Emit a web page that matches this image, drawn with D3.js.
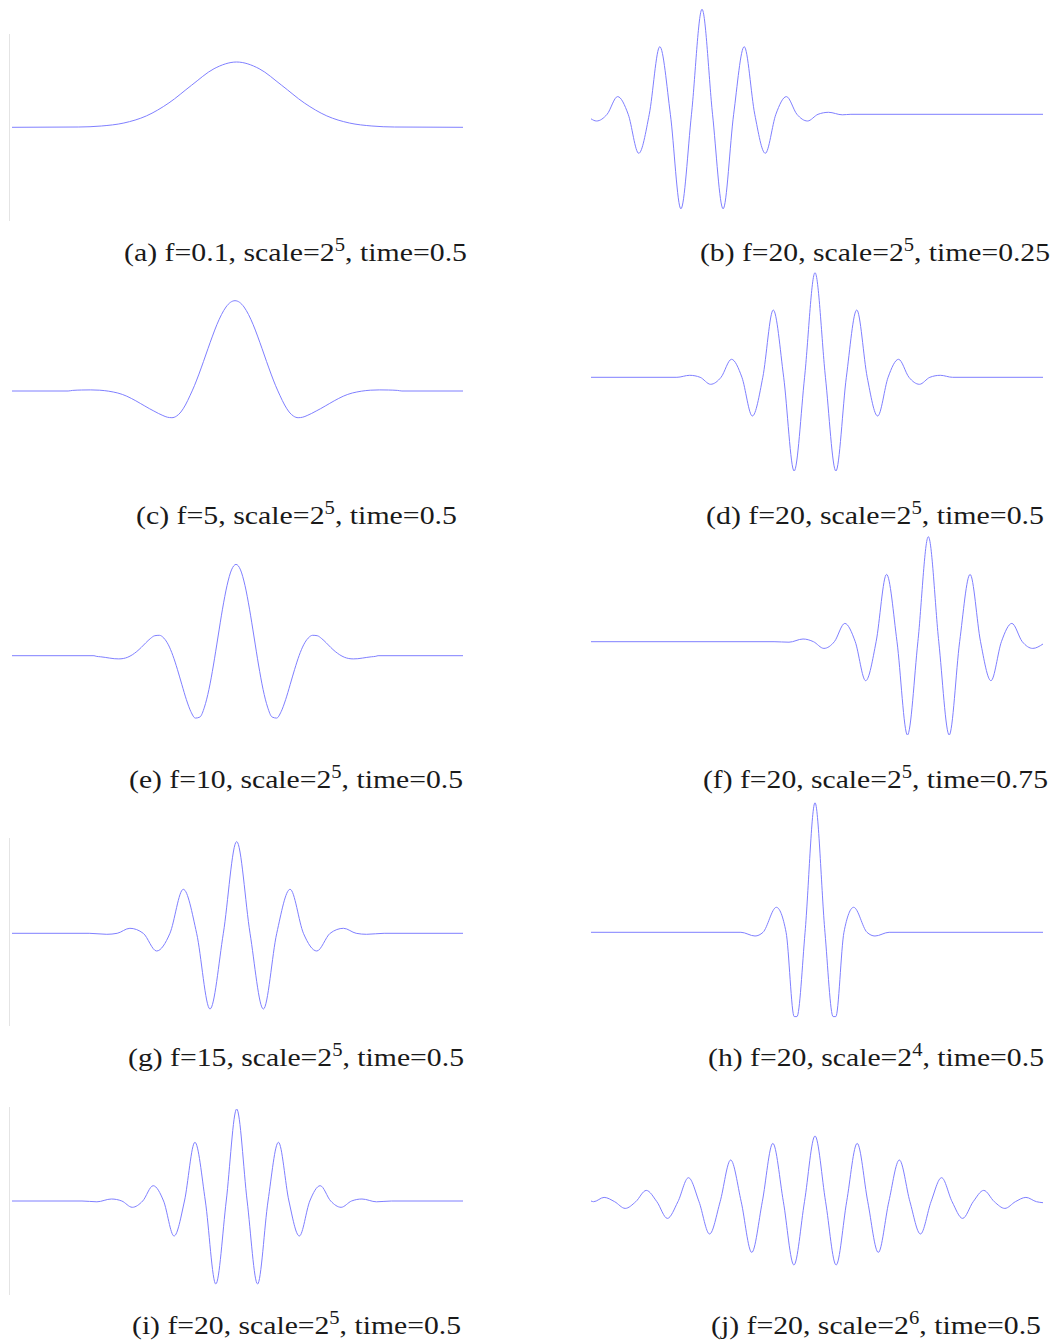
<!DOCTYPE html>
<html><head><meta charset="utf-8">
<script src="https://cdn.jsdelivr.net/npm/d3@7"></script>
<style>body{margin:0;background:#fff}svg{display:block}</style>
</head><body>
<script>
// ---- data: [time, amplitude] ----
const waveA = [[0,0],[0.148,0.003],[0.198,0.013],[0.248,0.043],[0.298,0.114],[0.348,0.244],[0.398,0.42],[0.448,0.586],[0.498,0.653],[0.548,0.586],[0.598,0.42],[0.648,0.244],[0.698,0.114],[0.748,0.043],[0.798,0.013],[0.848,0.003],[1,0]];
const waveB = [[0,-0.045],[0.0122,-0.067],[0.0356,0],[0.0589,0.177],[0.0823,0],[0.1056,-0.39],[0.1289,0],[0.1522,0.676],[0.1756,0],[0.1989,-0.945],[0.2223,0],[0.2456,1.05],[0.2689,0],[0.2923,-0.945],[0.3156,0],[0.339,0.676],[0.3623,0],[0.3856,-0.39],[0.409,0],[0.4323,0.177],[0.4556,0],[0.479,-0.067],[0.5023,0],[0.5257,0.02],[0.556,-0.005],[0.575,0],[1,0]];
const waveC = [[0,0],[0.1245,0],[0.1345,0.006],[0.1545,0.010],[0.1745,0.011],[0.1945,0.008],[0.2045,0.004],[0.2145,-0.002],[0.2245,-0.010],[0.2345,-0.020],[0.2445,-0.034],[0.2545,-0.052],[0.2645,-0.074],[0.2745,-0.098],[0.2845,-0.124],[0.2945,-0.150],[0.3045,-0.176],[0.3145,-0.200],[0.3245,-0.224],[0.3345,-0.245],[0.3445,-0.262],[0.3545,-0.267],[0.3645,-0.252],[0.3745,-0.210],[0.3845,-0.140],[0.3945,-0.048],[0.4045,0.053],[0.4145,0.169],[0.4245,0.294],[0.4345,0.423],[0.4445,0.549],[0.4545,0.666],[0.4645,0.764],[0.4745,0.840],[0.4845,0.887],[0.4945,0.903],[0.5045,0.887],[0.5145,0.840],[0.5245,0.764],[0.5345,0.666],[0.5445,0.549],[0.5545,0.423],[0.5645,0.294],[0.5745,0.169],[0.5845,0.053],[0.5945,-0.048],[0.6045,-0.140],[0.6145,-0.210],[0.6245,-0.252],[0.6345,-0.267],[0.6445,-0.262],[0.6545,-0.245],[0.6645,-0.224],[0.6745,-0.200],[0.6845,-0.176],[0.6945,-0.150],[0.7045,-0.124],[0.7145,-0.098],[0.7245,-0.074],[0.7345,-0.052],[0.7445,-0.034],[0.7545,-0.020],[0.7645,-0.010],[0.7745,-0.002],[0.7845,0.004],[0.7945,0.008],[0.8145,0.011],[0.8345,0.010],[0.8545,0.006],[0.8645,0],[1,0]];
const waveD = [[0,0],[0.19,0],[0.2184,0.02],[0.2415,0],[0.2646,-0.07],[0.2877,0],[0.3108,0.18],[0.3339,0],[0.357,-0.387],[0.3801,0],[0.4032,0.673],[0.4263,0],[0.4494,-0.937],[0.4725,0],[0.4956,1.046],[0.5187,0],[0.5418,-0.937],[0.5649,0],[0.588,0.673],[0.6111,0],[0.6342,-0.387],[0.6573,0],[0.6804,0.18],[0.7035,0],[0.7266,-0.07],[0.7497,0],[0.7728,0.02],[0.80,0],[1,0]];
const waveE = [[0,0],[0.1817,0],[0.1867,-0.006],[0.1967,-0.011],[0.2067,-0.017],[0.2167,-0.024],[0.2267,-0.030],[0.2367,-0.032],[0.2467,-0.028],[0.2567,-0.015],[0.2667,0.009],[0.2767,0.042],[0.2867,0.083],[0.2967,0.129],[0.3067,0.171],[0.3167,0.200],[0.3267,0.204],[0.3367,0.176],[0.3467,0.109],[0.3567,0.002],[0.3667,-0.136],[0.3767,-0.290],[0.3867,-0.440],[0.3967,-0.560],[0.4067,-0.624],[0.4167,-0.613],[0.4267,-0.514],[0.4367,-0.337],[0.4467,-0.093],[0.4567,0.187],[0.4667,0.465],[0.4767,0.700],[0.4867,0.858],[0.4967,0.913],[0.5067,0.858],[0.5167,0.700],[0.5267,0.465],[0.5367,0.187],[0.5467,-0.093],[0.5567,-0.337],[0.5667,-0.514],[0.5767,-0.613],[0.5867,-0.624],[0.5967,-0.560],[0.6067,-0.440],[0.6167,-0.290],[0.6267,-0.136],[0.6367,0.002],[0.6467,0.109],[0.6567,0.176],[0.6667,0.204],[0.6767,0.200],[0.6867,0.171],[0.6967,0.129],[0.7067,0.083],[0.7167,0.042],[0.7267,0.009],[0.7367,-0.015],[0.7467,-0.028],[0.7567,-0.032],[0.7667,-0.030],[0.7767,-0.024],[0.7867,-0.017],[0.7967,-0.011],[0.8067,-0.006],[0.8117,0],[1,0]];
const waveF = [[0,0],[0.405,0],[0.438,-0.005],[0.4691,0.027],[0.4922,0],[0.5153,-0.067],[0.5384,0],[0.5615,0.183],[0.5846,0],[0.6077,-0.39],[0.6308,0],[0.6539,0.673],[0.677,0],[0.7001,-0.933],[0.7232,0],[0.7463,1.05],[0.7694,0],[0.7925,-0.933],[0.8156,0],[0.8387,0.673],[0.8618,0],[0.8849,-0.39],[0.908,0],[0.9311,0.183],[0.9542,0],[0.9773,-0.067],[1,-0.023]];
const waveG = [[0,0],[0.1712,0],[0.2102,-0.01],[0.2332,0],[0.2614,0.05],[0.291,0],[0.3206,-0.177],[0.3502,0],[0.3798,0.44],[0.4094,0],[0.439,-0.757],[0.4686,0],[0.4982,0.917],[0.5278,0],[0.5574,-0.757],[0.587,0],[0.6166,0.44],[0.6462,0],[0.6758,-0.177],[0.7054,0],[0.735,0.05],[0.7632,0],[0.7862,-0.01],[0.8252,0],[1,0]];
const waveH = [[0,0],[0.3316,0],[0.3629,-0.037],[0.3806,0],[0.4101,0.25],[0.4316,0],[0.4496,-0.843],[0.4556,-0.843],[0.4736,0],[0.4956,1.296],[0.5176,0],[0.5356,-0.843],[0.5416,-0.843],[0.5596,0],[0.5811,0.25],[0.6106,0],[0.6283,-0.037],[0.6596,0],[1,0]];
const waveI = [[0,0],[0.1552,0],[0.1882,-0.008],[0.2204,0.02],[0.2435,0],[0.2667,-0.063],[0.2898,0],[0.313,0.153],[0.3361,0],[0.3593,-0.35],[0.3824,0],[0.4056,0.587],[0.4287,0],[0.4519,-0.83],[0.475,0],[0.4982,0.92],[0.5214,0],[0.5445,-0.83],[0.5677,0],[0.5908,0.587],[0.614,0],[0.6371,-0.35],[0.6603,0],[0.6834,0.153],[0.7066,0],[0.7297,-0.063],[0.7529,0],[0.776,0.02],[0.8082,-0.008],[0.8412,0],[1,0]];
const waveJ = [[0,0.007],[0.0057,0],[0.029,0.043],[0.0523,0],[0.0757,-0.067],[0.099,0],[0.1223,0.113],[0.1457,0],[0.169,-0.167],[0.1923,0],[0.2156,0.24],[0.239,0],[0.2623,-0.323],[0.2857,0],[0.309,0.417],[0.3323,0],[0.3556,-0.507],[0.379,0],[0.4023,0.583],[0.4256,0],[0.4489,-0.633],[0.4723,0],[0.4956,0.657],[0.519,0],[0.5423,-0.633],[0.5656,0],[0.5889,0.583],[0.6123,0],[0.6356,-0.507],[0.6589,0],[0.6822,0.417],[0.7056,0],[0.7289,-0.323],[0.7523,0],[0.7756,0.24],[0.7989,0],[0.8222,-0.167],[0.8456,0],[0.8689,0.113],[0.8923,0],[0.9156,-0.067],[0.9389,0],[0.9622,0.043],[0.9856,0],[1,-0.01]];

// ---- caption values ----
const panelTags = ["(a)","(b)","(c)","(d)","(e)","(f)","(g)","(h)","(i)","(j)"];
const freqs     = ["0.1","20","5","20","10","20","15","20","20","20"];
const scaleExps = ["5","5","5","5","5","5","5","4","5","6"];
const times     = ["0.5","0.25","0.5","0.5","0.5","0.75","0.5","0.5","0.5","0.5"];

const waves = [waveA,waveB,waveC,waveD,waveE,waveF,waveG,waveH,waveI,waveJ];

// ---- layout (positions, not data) ----
const colX = [[12,463],[591,1043]];
const rowBase = [[127.3,114.3],[391,377.3],[655.7,641.7],[933.3,932.3],[1201,1201.7]];
const rowCaption = [260.5,523.5,787.5,1065.5,1333.5];
const capSpan = [[124,467],[700,1050],[136,457],[706,1044],[129,463],[703,1048],[128,464],[708,1044],[132,461],[711,1041]];
const grayLines = {0:[34,221],6:[838,1026],8:[1107,1295]};

const W = 1054, H = 1342;
const svg = d3.select("body").append("svg").attr("width",W).attr("height",H);

waves.forEach((data,i)=>{
  const col = i%2, row = Math.floor(i/2);
  const base = rowBase[row][col];
  const x = d3.scaleLinear().domain([0,1]).range(colX[col]);
  const y = d3.scaleLinear().domain([-1,1]).range([base+100, base-100]);
  const g = svg.append("g");
  if (grayLines[i]) {
    g.append("line").attr("x1",9.5).attr("x2",9.5)
      .attr("y1",grayLines[i][0]).attr("y2",grayLines[i][1])
      .attr("stroke","#e4e4e4").attr("stroke-width",1);
  }
  const line = d3.line().x(d=>x(d[0])).y(d=>y(d[1])).curve(d3.curveMonotoneX);
  g.append("path").datum(data).attr("d",line)
    .attr("fill","none").attr("stroke","#7f7fff").attr("stroke-width",1);

  const [cx0,cx1] = capSpan[i];
  const t = svg.append("text")
    .attr("x",cx0).attr("y",rowCaption[row])
    .attr("font-family","'Liberation Serif','Times New Roman',serif")
    .attr("font-size",26).attr("fill","#1a1a1a")
    .attr("textLength",cx1-cx0).attr("lengthAdjust","spacingAndGlyphs");
  t.append("tspan").text(`${panelTags[i]} f=${freqs[i]}, scale=2`);
  t.append("tspan").attr("font-size",18).attr("dy",-10).text(scaleExps[i]);
  t.append("tspan").attr("dy",10).text(`, time=${times[i]}`);
});
</script>
</body></html>
